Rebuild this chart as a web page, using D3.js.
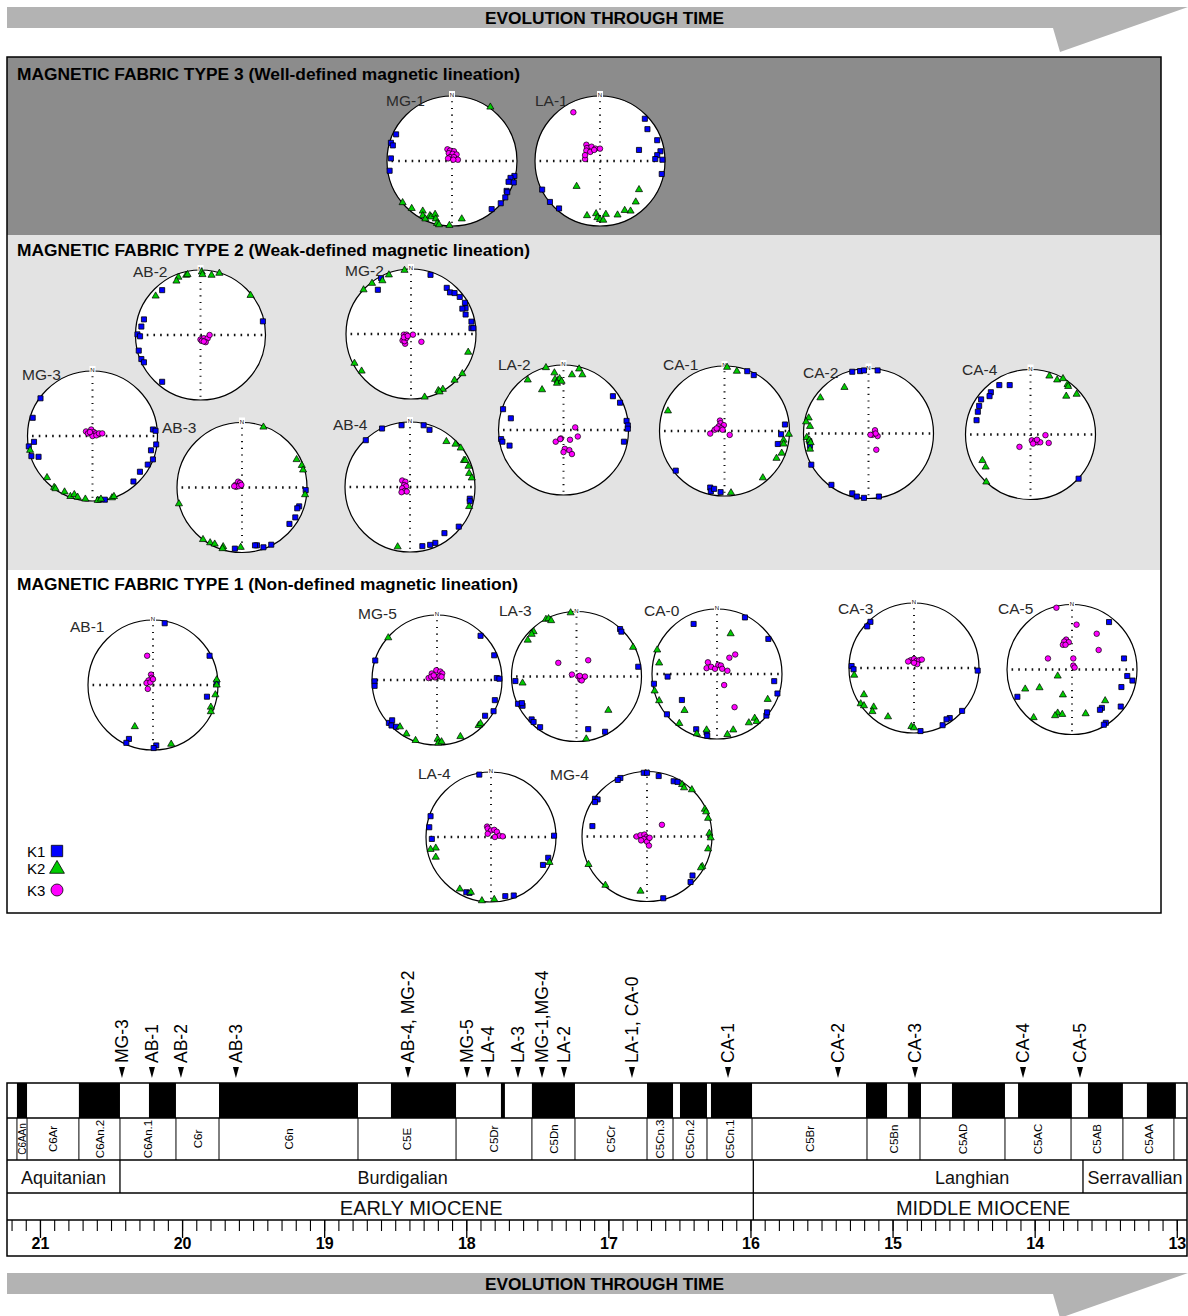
<!DOCTYPE html>
<html><head><meta charset="utf-8">
<script src="https://cdn.jsdelivr.net/npm/d3@7"></script>
<style>body{margin:0;background:#fff}svg{display:block;font-family:"Liberation Sans",Arial,Helvetica,sans-serif}</style>
</head><body><svg id="c" width="1188" height="1316"></svg>
<script>
// ---------------- DATA ----------------
const arrowTitle = "EVOLUTION THROUGH TIME";
const fabricTitles = [
  "MAGNETIC FABRIC TYPE 3 (Well-defined magnetic lineation)",
  "MAGNETIC FABRIC TYPE 2 (Weak-defined magnetic lineation)",
  "MAGNETIC FABRIC TYPE 1 (Non-defined magnetic lineation)"
];
const legendLabels = ["K1","K2","K3"];

// time axis (Ma)
const timeDomain = [21.232, 12.928];
const majorTicks = [21,20,19,18,17,16,15,14,13];
const minorTicks = d3.range(212, 129, -1).map(d => d / 10);

// normal polarity intervals [older, younger] (Ma)
const normalPolarity = [
  [21.162,21.091],[20.726,20.437],[20.233,20.043],[19.740,18.762],[18.530,18.072],
  [17.756,17.728],[17.538,17.235],[16.728,16.545],[16.496,16.306],[16.278,15.989],
  [15.187,15.039],[14.892,14.800],[14.582,14.209],[14.117,13.738],[13.625,13.379],[13.210,13.006]
];
const chronNames = ["C6AAn","C6Ar","C6An.2","C6An.1","C6r","C6n","C5E","C5Dr","C5Dn","C5Cr",
  "C5Cn.3","C5Cn.2","C5Cn.1","C5Br","C5Bn","C5AD","C5AC","C5AB","C5AA"];
const chronBounds = [21.162,21.091,20.726,20.437,20.043,19.740,18.762,18.072,17.538,17.235,
  16.728,16.545,16.306,15.989,15.180,14.807,14.209,13.744,13.379,13.020];
const stageNames = ["Aquitanian","Burdigalian","Langhian","Serravallian"];
const stageBounds = [21.232,20.437,15.98,13.66,12.928];
const epochNames = ["EARLY MIOCENE","MIDDLE MIOCENE"];
const epochBounds = [21.232,15.98,12.928];

const sampleLabels = ["MG-3","AB-1","AB-2","AB-3","AB-4, MG-2","MG-5","LA-4","LA-3","MG-1,MG-4","LA-2",
  "LA-1, CA-0","CA-1","CA-2","CA-3","CA-4","CA-5"];
const sampleAges = [20.423,20.212,20.008,19.621,18.410,17.995,17.847,17.636,17.467,17.312,
  16.834,16.158,15.384,14.842,14.082,13.681];

// stereonet sites by fabric type
const type3Sites = ["MG-1","LA-1"];
const type2Sites = ["AB-2","MG-2","MG-3","AB-3","AB-4","LA-2","CA-1","CA-2","CA-4"];
const type1Sites = ["AB-1","MG-5","LA-3","CA-0","CA-3","CA-5","LA-4","MG-4"];

// projected axes, unit-circle coordinates [x (east), y (north)]
const K1pts = {
 "MG-1":[[-0.86,0.41],[-0.94,0.28],[-0.91,0.24],[-0.94,0.04],[-0.96,-0.15],[0.96,-0.23],[0.90,-0.26],[0.95,-0.33],[0.87,-0.32],[0.84,-0.46],[0.85,-0.48],[0.82,-0.56],[0.75,-0.65],[0.61,-0.74]],
 "LA-1":[[0.69,0.65],[0.73,0.49],[0.88,0.32],[0.60,0.17],[0.93,0.15],[0.88,0.09],[0.85,0.03],[0.96,0.02],[0.95,-0.20],[-0.89,-0.44],[-0.77,-0.63],[-0.63,-0.73]],
 "AB-2":[[-0.59,0.69],[0.96,0.21],[-0.87,0.24],[-0.91,0.13],[-0.97,0.01],[-0.93,-0.02],[-0.95,-0.24],[-0.91,-0.37],[-0.87,-0.42],[-0.59,-0.72]],
 "MG-3":[[-0.80,0.58],[-0.92,0.28],[-0.90,-0.09],[-0.98,-0.16],[-0.94,-0.31],[-0.83,-0.32],[0.93,0.10],[0.97,0.08],[0.98,-0.13],[0.90,-0.22],[0.93,-0.36],[0.85,-0.44],[0.73,-0.55],[0.63,-0.70],[0.19,-0.98],[0.10,-0.98]],
 "AB-3":[[0.98,-0.04],[0.88,-0.29],[0.85,-0.32],[0.82,-0.46],[0.73,-0.56],[0.45,-0.88],[0.33,-0.92],[0.23,-0.89],[0.20,-0.89],[-0.11,-0.94]],
 "MG-2":[[-0.46,0.86],[-0.51,0.68],[0.30,0.91],[0.55,0.71],[0.60,0.64],[0.67,0.63],[0.75,0.57],[0.83,0.48],[0.84,0.40],[0.79,0.39],[0.84,0.30],[0.93,0.19],[0.93,0.09],[0.96,0.09]],
 "AB-4":[[-0.43,0.90],[-0.68,0.72],[-0.13,0.95],[0.21,0.95],[0.30,0.88],[0.92,-0.18],[0.92,-0.22],[0.75,-0.61],[0.53,-0.71],[0.39,-0.86],[0.31,-0.89],[0.19,-0.91]],
 "LA-2":[[-0.93,0.32],[-0.81,0.18],[-0.96,-0.14],[-0.94,-0.18],[-0.83,-0.24],[0.76,0.52],[0.87,0.42],[0.97,0.14],[0.99,0.07],[0.99,0.02],[0.93,-0.18]],
 "CA-1":[[0.35,0.92],[0.45,0.86],[0.93,0.10],[0.87,-0.05],[0.82,-0.20],[-0.75,-0.61],[-0.22,-0.87],[-0.21,-0.93],[-0.16,-0.89],[-0.06,-0.94]],
 "CA-2":[[-0.25,0.95],[-0.13,0.96],[-0.07,0.97],[0.14,0.97],[-0.91,-0.12],[-0.90,-0.19],[-0.88,-0.48],[-0.57,-0.79],[-0.25,-0.92],[-0.18,-0.97],[-0.07,-0.99],[0.16,-0.97]],
 "CA-4":[[-0.48,0.76],[-0.32,0.76],[-0.61,0.65],[-0.63,0.59],[-0.76,0.54],[-0.79,0.44],[-0.81,0.35],[-0.83,0.22],[0.74,-0.68]],
 "AB-1":[[0.18,0.95],[0.87,0.45],[0.98,0.04],[0.83,-0.18],[-0.37,-0.83],[-0.41,-0.89],[0.05,-0.93],[0.01,-0.97]],
 "MG-5":[[0.67,0.68],[0.88,0.38],[-0.95,0.30],[-0.96,-0.02],[-0.96,-0.09],[0.92,0.03],[0.96,0.02],[0.89,-0.31],[0.87,-0.48],[0.74,-0.55],[-0.74,-0.66],[-0.69,-0.62],[-0.70,-0.70],[-0.63,-0.72]],
 "LA-3":[[0.67,0.73],[0.69,0.69],[0.95,0.15],[-0.94,-0.07],[-0.90,-0.42],[-0.83,-0.45],[-0.84,-0.41],[-0.69,-0.66],[-0.66,-0.70],[-0.56,-0.78],[0.18,-0.81],[0.44,-0.85]],
 "CA-0":[[0.43,0.87],[-0.36,0.77],[0.79,0.54],[-0.76,-0.04],[0.88,-0.11],[0.93,-0.30],[-0.97,-0.15],[-0.54,-0.40],[-0.77,-0.62],[-0.32,-0.85],[-0.16,-0.90],[-0.15,-0.95],[0.76,-0.64],[0.77,-0.59]],
 "CA-3":[[-0.67,0.71],[-0.72,0.64],[-0.96,0.03],[-0.93,-0.02],[0.98,-0.04],[0.74,-0.66],[0.55,-0.77],[0.50,-0.79],[0.44,-0.88],[0.10,-0.97]],
 "CA-5":[[0.57,0.73],[0.80,0.17],[0.85,-0.10],[0.93,-0.17],[0.76,-0.27],[0.75,-0.57],[0.46,-0.59],[0.43,-0.62],[-0.84,-0.42],[0.52,-0.82],[0.49,-0.85]],
 "LA-4":[[-0.18,0.96],[-0.93,0.32],[-0.95,0.15],[-0.91,-0.03],[0.88,-0.32],[0.80,-0.43],[0.97,0.02],[-0.38,-0.85],[-0.33,-0.86],[0.22,-0.91],[0.35,-0.90]],
 "MG-4":[[-0.05,0.98],[0.0,0.98],[0.18,0.93],[-0.41,0.90],[-0.45,0.87],[0.41,0.85],[0.47,0.84],[-0.80,0.58],[-0.76,0.57],[-0.80,0.53],[-0.84,0.16],[0.70,-0.60],[0.67,-0.70],[0.25,-0.95]]
};
const K2pts = {
 "MG-1":[[0.59,0.83],[-0.76,-0.64],[-0.62,-0.73],[-0.45,-0.77],[-0.45,-0.84],[-0.41,-0.89],[-0.34,-0.84],[-0.32,-0.86],[-0.26,-0.82],[-0.25,-0.89],[-0.23,-0.96],[-0.20,-0.98],[-0.04,-0.99],[0.15,-0.89]],
 "LA-1":[[-0.36,-0.39],[0.60,-0.44],[0.55,-0.63],[0.47,-0.77],[0.38,-0.76],[0.27,-0.83],[0.09,-0.82],[-0.06,-0.81],[-0.04,-0.87],[0.0,-0.90],[0.05,-0.91],[-0.20,-0.84]],
 "AB-2":[[-0.22,0.92],[-0.20,0.93],[-0.34,0.89],[-0.37,0.83],[0.02,0.97],[0.03,0.93],[0.17,0.92],[0.29,0.95],[0.77,0.61],[-0.69,0.60]],
 "MG-3":[[-0.96,-0.22],[-0.70,-0.64],[-0.59,-0.79],[-0.57,-0.81],[-0.43,-0.86],[-0.34,-0.93],[-0.28,-0.90],[-0.23,-0.94],[-0.11,-0.97],[0.08,-0.99],[0.13,-0.97],[0.30,-0.95],[0.33,-0.93]],
 "AB-3":[[0.33,0.93],[0.84,0.43],[0.92,0.34],[0.94,0.27],[0.97,-0.11],[-0.97,-0.25],[-0.60,-0.80],[-0.49,-0.85],[-0.42,-0.87],[-0.29,-0.91],[-0.30,-0.94],[-0.02,-0.92]],
 "MG-2":[[-0.10,0.98],[-0.34,0.91],[-0.44,0.82],[-0.60,0.78],[-0.73,0.68],[0.88,-0.28],[0.79,-0.61],[0.67,-0.71],[0.49,-0.85],[0.42,-0.87],[0.44,-0.89],[0.21,-0.97],[-0.87,-0.45],[-0.76,-0.57]],
 "AB-4":[[0.56,0.70],[0.70,0.66],[0.78,0.60],[0.83,0.41],[0.85,0.41],[0.90,0.32],[0.91,0.21],[0.95,0.14],[0.91,-0.30],[-0.19,-0.92]],
 "LA-2":[[-0.27,0.96],[-0.14,0.88],[-0.55,0.77],[-0.33,0.62],[-0.13,0.78],[-0.09,0.76],[-0.06,0.79],[-0.10,0.72],[-0.03,0.75],[0.13,0.85],[0.24,0.94],[0.29,0.85]],
 "CA-1":[[0.04,0.98],[0.19,0.92],[-0.87,0.31],[0.99,-0.05],[0.91,-0.14],[0.91,-0.20],[0.88,-0.34],[0.80,-0.42],[0.59,-0.72],[0.10,-0.95]],
 "CA-2":[[-0.37,0.71],[-0.74,0.55],[-0.92,0.24],[-0.96,0.18],[-0.90,0.11],[-0.95,-0.06],[-0.91,-0.10],[-0.89,-0.14],[-0.90,-0.24]],
 "CA-4":[[0.29,0.90],[0.41,0.84],[0.50,0.86],[0.57,0.77],[0.58,0.74],[0.55,0.59],[0.71,0.62],[-0.74,-0.40],[-0.69,-0.50],[-0.68,-0.73]],
 "AB-1":[[0.98,0.08],[0.98,0.0],[0.96,-0.15],[0.89,-0.34],[0.89,-0.41],[-0.28,-0.64],[0.28,-0.91]],
 "MG-5":[[-0.75,0.65],[-0.57,-0.72],[-0.47,-0.83],[-0.33,-0.93],[0.01,-0.91],[0.02,-0.97],[0.07,-0.95],[0.36,-0.87],[0.64,-0.70],[0.67,-0.67]],
 "LA-3":[[-0.09,0.98],[-0.47,0.88],[-0.43,0.89],[-0.39,0.86],[-0.66,0.69],[-0.69,0.65],[-0.75,0.56],[-0.83,-0.10],[0.87,0.45],[0.49,-0.52],[0.15,-0.96]],
 "CA-0":[[0.21,0.62],[-0.92,0.37],[-0.89,0.17],[-0.96,-0.26],[-0.89,-0.41],[-0.50,-0.56],[-0.58,-0.76],[-0.31,-0.92],[-0.16,-0.86],[0.16,-0.93],[0.25,-0.86],[0.49,-0.75],[0.58,-0.68],[0.61,-0.73],[0.78,-0.39]],
 "CA-3":[[-0.92,-0.11],[-0.77,-0.41],[-0.82,-0.55],[-0.77,-0.58],[-0.62,-0.60],[-0.64,-0.67],[-0.40,-0.75],[-0.04,-0.90],[0.0,-0.92]],
 "CA-5":[[-0.72,-0.30],[-0.50,-0.28],[-0.22,-0.10],[-0.14,-0.39],[-0.59,-0.74],[-0.22,-0.67],[-0.15,-0.69],[0.21,-0.68],[0.51,-0.48],[-0.26,-0.71]],
 "LA-4":[[-0.85,-0.17],[-0.93,-0.19],[-0.85,-0.31],[0.90,-0.39],[-0.48,-0.80],[-0.31,-0.85],[-0.14,-0.98],[0.05,-0.96]],
 "MG-4":[[0.54,0.80],[0.57,0.75],[0.69,0.72],[0.89,0.42],[0.91,0.38],[0.94,0.28],[0.96,0.05],[0.98,-0.02],[0.94,-0.19],[0.85,-0.46],[0.83,-0.48],[-0.90,-0.43],[-0.64,-0.75],[-0.10,-0.84]]
};
const K3pts = {
 "MG-1":[[-0.07,0.18],[-0.03,0.16],[0.03,0.15],[-0.05,0.12],[0.01,0.11],[0.07,0.10],[-0.03,0.06],[0.03,0.06],[0.09,0.02],[-0.06,0.04],[0.02,0.02]],
 "LA-1":[[-0.41,0.75],[-0.21,0.25],[-0.20,0.20],[-0.13,0.22],[-0.07,0.19],[0.0,0.19],[-0.21,0.16],[-0.15,0.14],[-0.09,0.17],[-0.23,0.03],[-0.23,0.09]],
 "AB-2":[[0.0,-0.07],[0.05,-0.05],[0.11,-0.05],[0.14,0.0],[0.02,-0.09],[0.08,-0.11],[0.05,-0.10]],
 "MG-3":[[-0.10,0.07],[-0.07,0.04],[-0.02,0.10],[0.02,0.06],[0.05,0.04],[0.0,0.0],[0.06,0.01],[0.10,0.04],[0.15,0.04],[-0.04,0.06]],
 "AB-3":[[-0.10,0.04],[-0.06,0.09],[-0.03,0.07],[-0.09,0.01],[-0.05,0.02],[-0.01,0.04],[-0.12,0.02]],
 "MG-2":[[-0.11,-0.01],[-0.07,-0.01],[-0.13,-0.10],[-0.09,-0.15],[-0.10,-0.11],[-0.07,-0.06],[0.03,-0.01],[0.16,-0.12],[-0.11,-0.05],[-0.05,-0.03]],
 "AB-4":[[-0.12,0.10],[-0.07,0.08],[-0.09,0.03],[-0.06,0.01],[-0.12,-0.02],[-0.08,-0.06],[-0.05,-0.07],[-0.13,-0.08]],
 "LA-2":[[0.18,0.04],[0.22,-0.10],[0.10,-0.15],[-0.04,-0.13],[-0.12,-0.18],[0.02,-0.29],[0.0,-0.34],[0.09,-0.31],[0.13,-0.37],[-0.05,-0.14]],
 "CA-1":[[-0.07,0.16],[-0.06,0.12],[-0.01,0.09],[-0.09,0.07],[-0.05,0.04],[-0.15,0.02],[-0.22,-0.04],[0.08,-0.06],[-0.03,0.02],[-0.12,0.04]],
 "CA-2":[[0.10,0.05],[0.06,-0.02],[0.14,-0.04],[0.11,0.0],[0.03,-0.02],[0.12,-0.25]],
 "CA-4":[[0.23,-0.01],[0.28,-0.13],[-0.17,-0.19],[0.02,-0.09],[0.07,-0.10],[0.11,-0.12],[0.04,-0.14],[0.15,-0.12],[0.10,-0.08]],
 "AB-1":[[-0.09,0.45],[-0.03,0.16],[-0.02,0.11],[-0.07,0.07],[-0.10,0.03],[-0.04,0.04],[0.0,0.09],[-0.08,-0.06]],
 "MG-5":[[-0.01,0.15],[-0.08,0.10],[0.05,0.13],[0.08,0.10],[-0.13,0.03],[-0.09,0.05],[-0.03,0.04],[0.04,0.06],[0.07,0.05],[-0.05,0.07]],
 "LA-3":[[-0.28,0.21],[0.18,0.25],[-0.07,0.03],[0.03,0.0],[0.06,-0.05],[0.10,-0.02],[0.13,0.0],[0.08,-0.06],[0.05,0.01]],
 "CA-0":[[-0.14,0.18],[-0.16,0.09],[-0.09,0.11],[-0.03,0.08],[0.02,0.14],[0.06,0.13],[0.08,0.08],[0.16,0.05],[0.19,0.25],[0.28,0.30],[0.11,-0.17],[0.27,-0.51]],
 "CA-3":[[-0.05,0.12],[0.0,0.14],[0.04,0.11],[0.08,0.12],[0.12,0.13],[0.05,0.06],[-0.09,0.10],[0.0,0.08]],
 "CA-5":[[-0.24,0.95],[0.07,0.69],[0.38,0.55],[-0.09,0.46],[-0.12,0.43],[-0.05,0.42],[-0.14,0.38],[-0.10,0.38],[0.41,0.30],[-0.37,0.17],[0.02,0.17],[0.02,0.06],[0.04,0.03]],
 "LA-4":[[-0.06,0.16],[-0.05,0.13],[0.0,0.10],[0.05,0.11],[0.09,0.08],[0.13,0.02],[0.18,0.01],[-0.05,0.05],[0.06,0.0]],
 "MG-4":[[0.23,0.18],[-0.16,0.0],[-0.10,0.02],[-0.04,0.03],[-0.01,-0.01],[0.02,-0.03],[-0.05,-0.04],[-0.09,-0.06],[0.0,-0.08],[0.04,-0.02],[0.03,-0.14]]
};

// ---------------- LAYOUT ----------------
const netR = 65;
const netLayout = {
 "MG-1":{cx:452,cy:161,lx:386,ly:106}, "LA-1":{cx:600,cy:161,lx:535,ly:106},
 "AB-2":{cx:200.5,cy:335,lx:133,ly:277}, "MG-2":{cx:411,cy:334,lx:345,ly:276},
 "MG-3":{cx:92.5,cy:436,lx:22,ly:380}, "AB-3":{cx:242,cy:487.5,lx:162,ly:433},
 "AB-4":{cx:410,cy:487,lx:333,ly:430}, "LA-2":{cx:563.5,cy:430,lx:498,ly:370},
 "CA-1":{cx:724.5,cy:431,lx:663,ly:370}, "CA-2":{cx:868.5,cy:433.5,lx:803,ly:378},
 "CA-4":{cx:1030.5,cy:434.5,lx:962,ly:375},
 "AB-1":{cx:153,cy:685,lx:70,ly:632}, "MG-5":{cx:437,cy:680,lx:358,ly:619},
 "LA-3":{cx:576.5,cy:676.5,lx:499,ly:616}, "CA-0":{cx:717,cy:674,lx:644,ly:616},
 "CA-3":{cx:914,cy:668,lx:838,ly:614}, "CA-5":{cx:1072,cy:669.5,lx:998,ly:614},
 "LA-4":{cx:491,cy:837,lx:418,ly:779}, "MG-4":{cx:647,cy:836.5,lx:550,ly:780}
};
const panelLayout = [
  {y0:57,y1:235,fill:"#8c8c8c",ty:80,tw:503,sites:type3Sites},
  {y0:235,y1:570,fill:"#e3e3e3",ty:256,tw:513,sites:type2Sites},
  {y0:570,y1:913,fill:"#ffffff",ty:590,tw:501,sites:type1Sites}
];
const box = {x0:7,x1:1161,y0:57,y1:913};
const tl = {x0:7,x1:1187,top:1083,pol:1118,chron:1160,stage:1193,epoch:1220,bottom:1256};
const stageShift = [0,-34,54,0];
const epochShift = [41,13];
const FONT = '"Liberation Sans", Arial, Helvetica, sans-serif';

const svg = d3.select("#c").attr("font-family", FONT);

// ---------------- ARROWS ----------------
function drawArrow(y0){
  const pts = [[7,y0],[1188,y0],[1060,y0+45],[1053,y0+21],[7,y0+21]];
  svg.append("polygon").attr("points", pts.map(p => p.join(",")).join(" ")).attr("fill","#b3b3b3");
  svg.append("text").attr("x",485).attr("y",y0+16.5)
    .attr("font-weight","bold").attr("font-size",16).attr("textLength",239).attr("lengthAdjust","spacingAndGlyphs")
    .attr("fill","#000").text(arrowTitle);
}
drawArrow(7);
drawArrow(1273);

// ---------------- PANELS ----------------
panelLayout.forEach((p,i) => {
  svg.append("rect").attr("x",box.x0).attr("y",p.y0).attr("width",box.x1-box.x0).attr("height",p.y1-p.y0).attr("fill",p.fill);
  svg.append("text").attr("x",17).attr("y",p.ty).attr("font-weight","bold").attr("font-size",16)
    .attr("textLength",p.tw).attr("lengthAdjust","spacingAndGlyphs").attr("fill","#000").text(fabricTitles[i]);
});
svg.append("rect").attr("x",box.x0).attr("y",box.y0).attr("width",box.x1-box.x0).attr("height",box.y1-box.y0)
  .attr("fill","none").attr("stroke","#000").attr("stroke-width",1.5);

const symK1 = d3.symbol(d3.symbolSquare, 26)();
const symK2 = d3.symbol(d3.symbolTriangle, 22)();
const symK3 = d3.symbol(d3.symbolCircle, 24)();

function drawNet(site){
  const L = netLayout[site];
  const sx = d3.scaleLinear().domain([-1,1]).range([L.cx-netR, L.cx+netR]);
  const sy = d3.scaleLinear().domain([-1,1]).range([L.cy+netR, L.cy-netR]);
  const g = svg.append("g");
  g.append("circle").attr("cx",sx(0)).attr("cy",sy(0)).attr("r",netR).attr("fill","#fff").attr("stroke","#000").attr("stroke-width",1.2);
  g.append("line").attr("x1",sx(-0.93)).attr("x2",sx(0.95)).attr("y1",sy(0)).attr("y2",sy(0))
    .attr("stroke","#111").attr("stroke-width",2.6).attr("stroke-dasharray","1.6 5.1");
  g.append("line").attr("x1",sx(0)).attr("x2",sx(0)).attr("y1",sy(0.92)).attr("y2",sy(-0.95))
    .attr("stroke","#111").attr("stroke-width",2).attr("stroke-dasharray","1.1 5.6");
  g.append("rect").attr("x",sx(0)-3).attr("y",sy(1)-5).attr("width",6).attr("height",7).attr("fill","#fff");
  g.append("text").attr("x",sx(0)).attr("y",sy(1)+1).attr("text-anchor","middle").attr("font-size",6).attr("fill","#000").text("N");
  g.selectAll(".k1").data(K1pts[site]).join("path").attr("d",symK1)
    .attr("transform",d => `translate(${sx(d[0])},${sy(d[1])})`)
    .attr("fill","#0000ff").attr("stroke","#000").attr("stroke-width",0.8);
  g.selectAll(".k2").data(K2pts[site]).join("path").attr("d",symK2)
    .attr("transform",d => `translate(${sx(d[0])},${sy(d[1])})`)
    .attr("fill","#00cc00").attr("stroke","#000").attr("stroke-width",0.7);
  g.selectAll(".k3").data(K3pts[site]).join("path").attr("d",symK3)
    .attr("transform",d => `translate(${sx(d[0])},${sy(d[1])})`)
    .attr("fill","#ff00ff").attr("stroke","#000").attr("stroke-width",0.7);
  svg.append("text").attr("x",L.lx).attr("y",L.ly).attr("font-size",15.5).attr("fill","#2a2a2a").text(site);
}
panelLayout.forEach(p => p.sites.forEach(drawNet));

// legend
const legSyms = [d3.symbol(d3.symbolSquare,130)(), d3.symbol(d3.symbolTriangle,95)(), d3.symbol(d3.symbolCircle,113)()];
const legFill = ["#0000ff","#00cc00","#ff00ff"];
const legY = [851, 868, 890];
legendLabels.forEach((t,i) => {
  svg.append("text").attr("x",27).attr("y",legY[i]+6).attr("font-size",15).attr("fill","#000").text(t);
  svg.append("path").attr("d",legSyms[i]).attr("transform",`translate(57,${legY[i]+(i===1?1:0)})`)
    .attr("fill",legFill[i]).attr("stroke","#000").attr("stroke-width",0.8);
});

// ---------------- TIMELINE ----------------
const x = d3.scaleLinear().domain(timeDomain).range([tl.x0, tl.x1]);
const T = svg.append("g");
T.append("rect").attr("x",tl.x0).attr("y",tl.top).attr("width",tl.x1-tl.x0).attr("height",tl.bottom-tl.top).attr("fill","#fff");
T.selectAll(".pol").data(normalPolarity).join("rect")
  .attr("x",d => x(d[0])).attr("width",d => x(d[1])-x(d[0]))
  .attr("y",tl.top).attr("height",tl.pol-tl.top).attr("fill","#000");
[tl.pol, tl.chron, tl.stage, tl.epoch].forEach(yy =>
  T.append("line").attr("x1",tl.x0).attr("x2",tl.x1).attr("y1",yy).attr("y2",yy).attr("stroke","#000").attr("stroke-width",1.3));
T.selectAll(".cb").data(chronBounds).join("line")
  .attr("x1",d => x(d)).attr("x2",d => x(d)).attr("y1",tl.pol).attr("y2",tl.chron).attr("stroke","#000").attr("stroke-width",1);
chronNames.forEach((n,i) => {
  const cx = (x(chronBounds[i]) + x(chronBounds[i+1])) / 2;
  T.append("text").attr("transform",`translate(${cx},${(tl.pol+tl.chron)/2}) rotate(-90)`)
    .attr("text-anchor","middle").attr("dy","0.36em").attr("font-size", i===0 ? 10 : 11.5).attr("fill","#000").text(n);
});
stageBounds.slice(1,-1).forEach(b =>
  T.append("line").attr("x1",x(b)).attr("x2",x(b)).attr("y1",tl.chron).attr("y2",tl.stage).attr("stroke","#000").attr("stroke-width",1.3));
stageNames.forEach((n,i) => {
  const cx = (x(stageBounds[i]) + x(stageBounds[i+1])) / 2 + stageShift[i];
  T.append("text").attr("x",cx).attr("y",tl.stage-9).attr("text-anchor","middle").attr("font-size",18).attr("fill","#111").text(n);
});
epochBounds.slice(1,-1).forEach(b =>
  T.append("line").attr("x1",x(b)).attr("x2",x(b)).attr("y1",tl.stage).attr("y2",tl.epoch).attr("stroke","#000").attr("stroke-width",1.3));
epochNames.forEach((n,i) => {
  const cx = (x(epochBounds[i]) + x(epochBounds[i+1])) / 2 + epochShift[i];
  T.append("text").attr("x",cx).attr("y",tl.epoch-5).attr("text-anchor","middle").attr("font-size",20).attr("fill","#111").text(n);
});
// axes
const minorAxis = d3.axisBottom(x).tickValues(minorTicks).tickSize(11).tickFormat("");
const majorAxis = d3.axisBottom(x).tickValues(majorTicks).tickSize(18).tickPadding(0).tickFormat(d3.format("d"));
const ga = T.append("g").attr("transform",`translate(0,${tl.epoch})`).call(minorAxis);
ga.select(".domain").remove();
ga.selectAll(".tick line").attr("stroke","#000").attr("stroke-width",1.1);
const gb = T.append("g").attr("transform",`translate(0,${tl.epoch})`).call(majorAxis);
gb.select(".domain").remove();
gb.selectAll(".tick line").attr("stroke","#000").attr("stroke-width",1.3);
gb.selectAll(".tick text").attr("font-size",16).attr("font-weight","bold").attr("font-family",FONT).attr("fill","#000");
T.append("rect").attr("x",tl.x0).attr("y",tl.top).attr("width",tl.x1-tl.x0).attr("height",tl.bottom-tl.top)
  .attr("fill","none").attr("stroke","#000").attr("stroke-width",1.5);

// sample markers
sampleLabels.forEach((s,i) => {
  const sx = x(sampleAges[i]);
  T.append("path").attr("d",`M${sx-3},1067 L${sx+3},1067 L${sx},1078 Z`).attr("fill","#000");
  T.append("text").attr("transform",`translate(${sx},1063) rotate(-90)`).attr("dy","0.36em")
    .attr("font-size",17.5).attr("fill","#000").text(s);
});
</script></body></html>
